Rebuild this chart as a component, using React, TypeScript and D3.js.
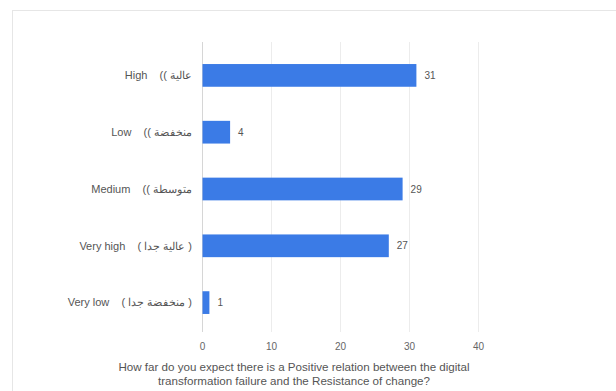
import React from "react";
import * as d3 from "d3";

const categories = [
  "High    (( عالية",
  "Low    (( منخفضة",
  "Medium    (( متوسطة",
  "Very high    ( عالية جدا )",
  "Very low    ( منخفضة جدا )",
];
const values = [31, 4, 29, 27, 1];
const xTicks = [0, 10, 20, 30, 40];
const titleLines = [
  "How far do you expect there is a Positive relation between the digital",
  "transformation failure and the Resistance of change?",
];

const W = 616;
const H = 391;
const FONT = "Arial, 'Liberation Sans', sans-serif";

export default function App() {
  const x = d3.scaleLinear().domain([0, 40]).range([202.5, 478.5]);
  const y = d3
    .scaleBand<string>()
    .domain(categories)
    .range([47, 331])
    .paddingInner(0.6)
    .paddingOuter(0.3);

  return (
    <div style={{ position: "absolute", left: 0, top: 0 }}>
      <svg width={W} height={H} style={{ display: "block", background: "#fff" }}>
        <rect x={12.5} y={10.5} width={620} height={400} fill="#fff" stroke="#e6e6e6" />
        {xTicks.map((t) => (
          <line
            key={"g" + t}
            x1={x(t)}
            x2={x(t)}
            y1={42}
            y2={332}
            stroke={t === 0 ? "#d6d6d6" : "#ececec"}
            strokeWidth={1}
          />
        ))}
        {categories.map((c, i) => {
          const yy = y(c)!;
          const bh = y.bandwidth();
          return (
            <g key={c}>
              <rect x={x(0)} y={yy} width={x(values[i]) - x(0)} height={bh} fill="#3b7be6" />
              <text
                x={x(values[i]) + 8}
                y={yy + bh / 2}
                dy="0.35em"
                fontSize={10}
                fontFamily={FONT}
                fill="#555"
              >
                {values[i]}
              </text>
              <text
                x={192}
                y={yy + bh / 2}
                dy="0.35em"
                textAnchor="end"
                fontSize={11}
                fontFamily={FONT}
                fill="#555"
                direction="ltr"
                style={{ whiteSpace: "pre" }}
              >
                {c}
              </text>
            </g>
          );
        })}
        {xTicks.map((t) => (
          <text
            key={"t" + t}
            x={x(t)}
            y={346}
            dy="0.35em"
            textAnchor="middle"
            fontSize={10}
            fontFamily={FONT}
            fill="#666"
          >
            {t}
          </text>
        ))}
        {titleLines.map((l, i) => (
          <text
            key={l}
            x={294}
            y={367 + i * 14}
            dy="0.35em"
            textAnchor="middle"
            fontSize={11.6}
            fontFamily={FONT}
            fill="#555"
          >
            {l}
          </text>
        ))}
      </svg>
    </div>
  );
}
